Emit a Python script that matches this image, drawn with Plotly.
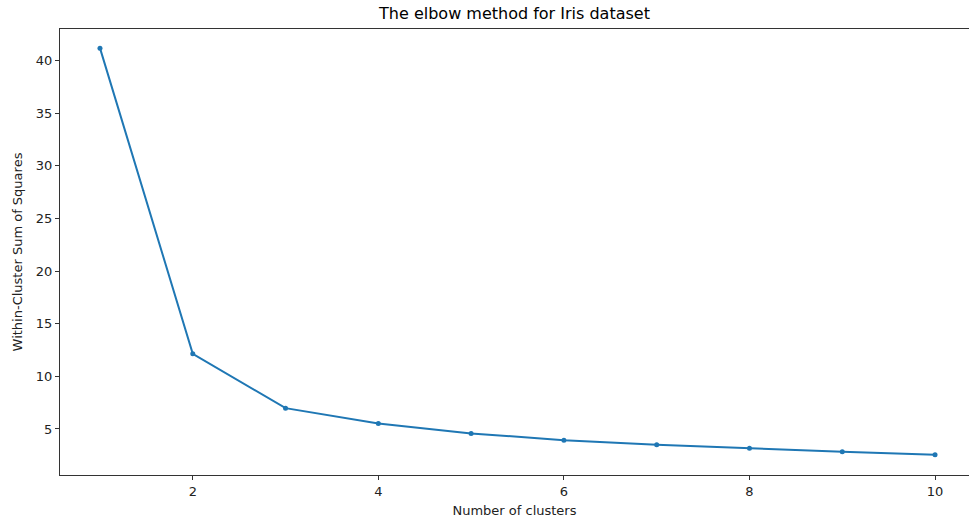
import plotly.graph_objects as go

clusters = [1, 2, 3, 4, 5, 6, 7, 8, 9, 10]
wcss = [41.17, 12.14, 6.98, 5.53, 4.58, 3.94, 3.50, 3.16, 2.85, 2.56]
x_ticks = [2, 4, 6, 8, 10]
y_ticks = [5, 10, 15, 20, 25, 30, 35, 40]

font = "DejaVu Sans"
fig = go.Figure()
fig.add_trace(go.Scatter(
    x=clusters, y=wcss, mode="lines+markers",
    line=dict(color="#1f77b4", width=2),
    marker=dict(color="#1f77b4", size=5),
))
fig.update_layout(
    width=969, height=522,
    margin=dict(l=60, r=0, t=29, b=47),
    plot_bgcolor="white", paper_bgcolor="white",
    showlegend=False,
    title=dict(text="The elbow method for Iris dataset", x=0.5, xref="paper",
               xanchor="center", y=0.975, yref="container", yanchor="middle",
               font=dict(family=font, size=16, color="#000")),
    font=dict(family=font, size=13, color="#222"),
)
fig.update_xaxes(
    range=[0.569, 10.366], tickvals=x_ticks, ticktext=[str(v) for v in x_ticks],
    showgrid=False, zeroline=False, showline=True, linecolor="#333", linewidth=1,
    mirror=True, ticks="outside", ticklen=4, tickcolor="#333",
    title=dict(text="Number of clusters", font=dict(family=font, size=13, color="#222"), standoff=8),
)
fig.update_yaxes(
    range=[0.63, 42.99], tickvals=y_ticks, ticktext=[str(v) for v in y_ticks],
    showgrid=False, zeroline=False, showline=True, linecolor="#333", linewidth=1,
    ticks="outside", ticklen=4, tickcolor="#333",
    title=dict(text="Within-Cluster Sum of Squares", font=dict(family=font, size=13, color="#222"), standoff=10),
)
fig.write_html("out.html")
